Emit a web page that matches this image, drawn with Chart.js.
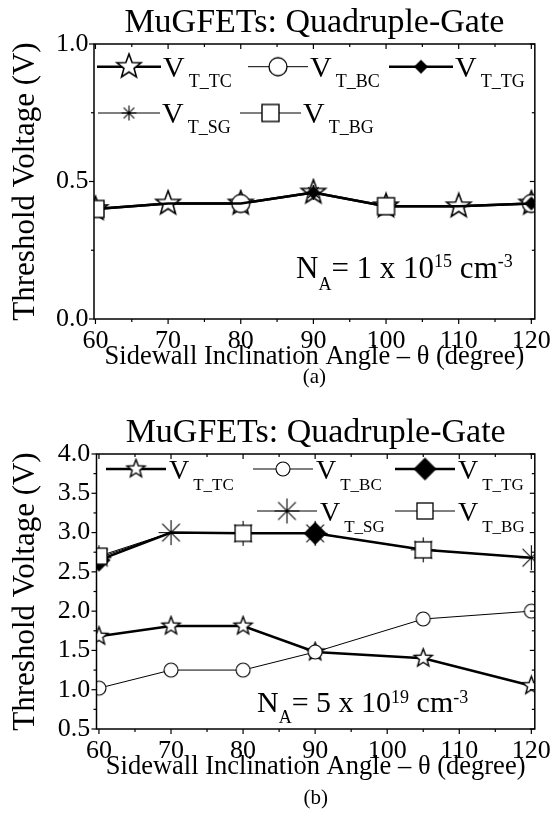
<!DOCTYPE html>
<html>
<head>
<meta charset="utf-8">
<script src="https://cdn.jsdelivr.net/npm/chart.js@4.4.1/dist/chart.umd.min.js"></script>
<style>
  html, body { margin: 0; padding: 0; background: #fff; }
  #wrap { position: relative; width: 555px; height: 821px; overflow: hidden; background: #fff; }
  #wrap canvas { position: absolute; left: 0; }
</style>
</head>
<body>
<div id="wrap">
  <canvas id="panelA" width="555" height="410" style="top:0px"></canvas>
  <canvas id="panelB" width="555" height="411" style="top:410px"></canvas>
</div>
<script>
// ---- Data -------------------------------------------------------------
// Panel (a): NA = 1 x 10^15 cm^-3
const anglesA = [60, 70, 80, 90, 100, 110, 120];
const vtTC_A = [0.40, 0.42, 0.42, 0.46, 0.41, 0.41, 0.42];
const vtBC_A = [0.40, 0.42, 0.42, 0.46, 0.41, 0.41, 0.42];
const vtTG_A = [0.40, 0.42, 0.42, 0.46, 0.41, 0.41, 0.42];
const vtSG_A = [0.40, 0.42, 0.42, 0.46, 0.41, 0.41, 0.42];
const vtBG_A = [0.40, 0.42, 0.42, 0.46, 0.41, 0.41, 0.42];
// angles at which each curve carries a symbol
const markTC_A = [60, 70, 80, 90, 100, 110, 120];
const markBC_A = [80, 120];
const markTG_A = [60, 90, 120];
const markSG_A = [90];
const markBG_A = [60, 100];
const xTicksA = [60, 70, 80, 90, 100, 110, 120];
const yTicksA = [0.0, 0.5, 1.0];

// Panel (b): NA = 5 x 10^19 cm^-3
const anglesB = [60, 70, 80, 90, 105, 120];
const vtTC_B = [1.68, 1.81, 1.81, 1.48, 1.40, 1.05];
const vtBC_B = [1.02, 1.25, 1.25, 1.48, 1.90, 2.00];
const vtTG_B = [2.65, 3.00, 2.99, 2.99, 2.78, 2.68];
const vtSG_B = [2.68, 3.00, 2.99, 2.99, 2.78, 2.68];
const vtBG_B = [2.70, 3.00, 2.99, 2.99, 2.78, 2.68];
const markTC_B = [60, 70, 80, 90, 105, 120];
const markBC_B = [60, 70, 80, 90, 105, 120];
const markTG_B = [60, 90];
const markSG_B = [60, 70, 80, 90, 105, 120];
const markBG_B = [60, 80, 105];
const xTicksB = [60, 70, 80, 90, 100, 110, 120];
const yTicksB = [0.5, 1.0, 1.5, 2.0, 2.5, 3.0, 3.5, 4.0];

const seriesNames = ['T_TC', 'T_BC', 'T_TG', 'T_SG', 'T_BG'];
const chartTitle = 'MuGFETs: Quadruple-Gate';
const yTitle = 'Threshold Voltage (V)';
const xTitle = 'Sidewall Inclination Angle \u2013 \u03b8 (degree)';
const dopingA = ['1 x 10', '15'];
const dopingB = ['5 x 10', '19'];

// ---- Symbols ----------------------------------------------------------
const FONT = "'Liberation Serif', 'Times New Roman', serif";

function makeCanvas(half) {
  const c = document.createElement('canvas');
  const s = Math.ceil(half * 2 + 4);
  c.width = c.height = s;
  return c;
}
function starSymbol(R, lw) {
  const c = makeCanvas(R), g = c.getContext('2d');
  const cx = c.width / 2, cy = c.height / 2;
  g.beginPath();
  for (let i = 0; i < 10; i++) {
    const r = i % 2 ? R * 0.42 : R;
    const a = -Math.PI / 2 + i * Math.PI / 5;
    g.lineTo(cx + r * Math.cos(a), cy + r * Math.sin(a));
  }
  g.closePath();
  g.fillStyle = '#fff'; g.fill();
  g.lineWidth = lw; g.strokeStyle = '#000'; g.lineJoin = 'miter'; g.stroke();
  return c;
}
function circleSymbol(r, lw) {
  const c = makeCanvas(r), g = c.getContext('2d');
  g.beginPath(); g.arc(c.width / 2, c.height / 2, r, 0, Math.PI * 2);
  g.fillStyle = '#fff'; g.fill();
  g.lineWidth = lw; g.strokeStyle = '#000'; g.stroke();
  return c;
}
function diamondSymbol(r) {
  const c = makeCanvas(r), g = c.getContext('2d');
  const cx = c.width / 2, cy = c.height / 2;
  g.beginPath(); g.moveTo(cx, cy - r); g.lineTo(cx + r, cy); g.lineTo(cx, cy + r); g.lineTo(cx - r, cy); g.closePath();
  g.fillStyle = '#000'; g.fill();
  return c;
}
function squareSymbol(h, lw) {
  const c = makeCanvas(h), g = c.getContext('2d');
  const cx = c.width / 2, cy = c.height / 2;
  g.fillStyle = '#fff'; g.fillRect(cx - h, cy - h, 2 * h, 2 * h);
  g.lineWidth = lw; g.strokeStyle = '#000'; g.strokeRect(cx - h, cy - h, 2 * h, 2 * h);
  return c;
}
function asteriskSymbol(r, lw) {
  const c = makeCanvas(r), g = c.getContext('2d');
  const cx = c.width / 2, cy = c.height / 2;
  g.lineWidth = lw; g.strokeStyle = '#000';
  g.beginPath();
  for (let i = 0; i < 4; i++) {
    const a = i * Math.PI / 4;
    g.moveTo(cx - r * Math.cos(a), cy - r * Math.sin(a));
    g.lineTo(cx + r * Math.cos(a), cy + r * Math.sin(a));
  }
  g.stroke();
  return c;
}

// ---- Plugins ----------------------------------------------------------
function strokeLine(ctx, x1, y1, x2, y2) {
  ctx.beginPath(); ctx.moveTo(x1, y1); ctx.lineTo(x2, y2); ctx.stroke();
}
function midpoints(vals) {
  const out = [];
  for (let i = 0; i < vals.length - 1; i++) out.push((vals[i] + vals[i + 1]) / 2);
  return out;
}

// Box frame with outward ticks on left/bottom and inward ticks on top/right.
const framePlugin = {
  id: 'frame',
  afterDraw(chart) {
    const { ctx, chartArea: a, scales: { x, y } } = chart;
    const major = 5, minor = 3;
    ctx.save();
    ctx.strokeStyle = '#000';
    ctx.lineWidth = 1.2;
    const xm = x.ticks.map(t => t.value), ym = y.ticks.map(t => t.value);
    xm.forEach(v => {
      const p = x.getPixelForValue(v);
      strokeLine(ctx, p, a.bottom, p, a.bottom + major);
      strokeLine(ctx, p, a.top, p, a.top + major);
    });
    midpoints(xm).forEach(v => {
      const p = x.getPixelForValue(v);
      strokeLine(ctx, p, a.bottom, p, a.bottom + minor);
      strokeLine(ctx, p, a.top, p, a.top + minor);
    });
    ym.forEach(v => {
      const p = y.getPixelForValue(v);
      strokeLine(ctx, a.left - major, p, a.left, p);
      strokeLine(ctx, a.right - major, p, a.right, p);
    });
    midpoints(ym).forEach(v => {
      const p = y.getPixelForValue(v);
      strokeLine(ctx, a.left - minor, p, a.left, p);
      strokeLine(ctx, a.right - minor, p, a.right, p);
    });
    ctx.lineWidth = 1.5;
    ctx.strokeRect(a.left, a.top, a.right - a.left, a.bottom - a.top);
    ctx.restore();
  }
};

// Legend with subscripted labels and the doping annotation.
const notesPlugin = {
  id: 'notes',
  afterDatasetsDraw(chart, args, o) {
    const { ctx, chartArea: a } = chart;
    ctx.save();
    ctx.fillStyle = '#000';
    ctx.strokeStyle = '#000';
    ctx.textBaseline = 'alphabetic';
    ctx.textAlign = 'left';
    o.items.forEach((it, i) => {
      const ds = chart.data.datasets[i];
      const y = a.top + it.dy;
      const x0 = a.left + it.dx0, x1 = a.left + it.dx1;
      ctx.lineWidth = ds.borderWidth;
      strokeLine(ctx, x0, y, x1, y);
      const img = ds.pointStyle;
      ctx.drawImage(img, (x0 + x1) / 2 - img.width / 2, y - img.height / 2);
      let tx = x1 + o.gap;
      ctx.font = o.mainSize + 'px ' + FONT;
      ctx.fillText('V', tx, y + o.mainDrop);
      tx += ctx.measureText('V').width + o.subGap;
      ctx.font = o.subSize + 'px ' + FONT;
      ctx.fillText(seriesNames[i], tx, y + o.subDrop);
    });
    // N_A = ... annotation
    const n = o.note;
    let tx = a.left + n.dx;
    const base = a.top + n.dy;
    const parts = [
      { t: 'N', s: n.big, d: 0 },
      { t: 'A', s: n.small, d: n.subDrop },
      { t: '= ' + n.text[0], s: n.big, d: 0 },
      { t: n.text[1], s: n.small, d: -n.supRise },
      { t: ' cm', s: n.big, d: 0 },
      { t: '-3', s: n.small, d: -n.supRise }
    ];
    parts.forEach(p => {
      ctx.font = p.s + 'px ' + FONT;
      ctx.fillText(p.t, tx, base + p.d);
      tx += ctx.measureText(p.t).width;
    });
    ctx.restore();
  }
};

// ---- Chart builder ----------------------------------------------------
function dataset(angles, values, marked, symbol, width, order) {
  return {
    data: angles.map((a, i) => ({ x: a, y: values[i] })),
    borderColor: '#000',
    backgroundColor: '#000',
    borderWidth: width,
    tension: 0,
    fill: false,
    order: order,
    pointStyle: symbol,
    pointRadius: c => (c.raw && marked.includes(c.raw.x)) ? 5 : 0,
    pointHoverRadius: 0,
    pointBorderWidth: 0
  };
}

function build(canvasId, p) {
  return new Chart(document.getElementById(canvasId), {
    type: 'line',
    data: { datasets: p.datasets },
    options: {
      responsive: false,
      animation: false,
      devicePixelRatio: 1,
      events: [],
      layout: { padding: { left: 0, top: 0, right: p.padRight, bottom: p.padBottom } },
      scales: {
        x: {
          type: 'linear',
          min: p.xMin, max: p.xMax,
          afterBuildTicks: s => { s.ticks = p.xTicks.map(v => ({ value: v })); },
          afterFit: s => { s.height = p.xAxisHeight; },
          ticks: {
            color: '#000', font: { family: FONT, size: p.tickSize, lineHeight: 1 },
            padding: p.xTickPad, maxRotation: 0, autoSkip: false,
            callback: v => String(v)
          },
          grid: { drawOnChartArea: false, drawTicks: true, tickLength: 5, tickColor: 'rgba(0,0,0,0)' },
          border: { display: false },
          title: {
            display: true, text: xTitle, color: '#000',
            font: { family: FONT, size: 26.5, lineHeight: 1 },
            padding: { top: 0, bottom: 0 }
          }
        },
        y: {
          type: 'linear',
          min: p.yMin, max: p.yMax,
          afterBuildTicks: s => { s.ticks = p.yTicks.map(v => ({ value: v })); },
          afterFit: s => { s.width = p.yAxisWidth; },
          ticks: {
            color: '#000', font: { family: FONT, size: p.tickSize, lineHeight: 1 },
            padding: p.yTickPad, autoSkip: false,
            callback: v => Number(v).toFixed(1)
          },
          grid: { drawOnChartArea: false, drawTicks: true, tickLength: 5, tickColor: 'rgba(0,0,0,0)' },
          border: { display: false },
          title: {
            display: true, text: yTitle, color: '#000',
            font: { family: FONT, size: 31, lineHeight: 1 },
            padding: { top: 10.5, bottom: 0 }
          }
        }
      },
      plugins: {
        legend: { display: false },
        tooltip: { enabled: false },
        title: {
          display: true, text: chartTitle, color: '#000', fullSize: false,
          font: { family: FONT, size: 34, weight: 'normal', lineHeight: 1 },
          padding: { top: 6.5, bottom: 3.5 }
        },
        subtitle: {
          display: true, text: p.tag, position: 'bottom', color: '#000', fullSize: false,
          font: { family: FONT, size: 21, weight: 'normal', lineHeight: p.tagLine },
          padding: { top: p.tagPad, bottom: 0 }
        },
        notes: p.notes
      }
    },
    plugins: [framePlugin, notesPlugin]
  });
}

// Panel (a)
build('panelA', {
  datasets: [
    dataset(anglesA, vtTC_A, markTC_A, starSymbol(12.7, 1.6), 2.5, 5),
    dataset(anglesA, vtBC_A, markBC_A, circleSymbol(9, 1.3), 1, 4),
    dataset(anglesA, vtTG_A, markTG_A, diamondSymbol(7), 2.5, 3),
    dataset(anglesA, vtSG_A, markSG_A, asteriskSymbol(7.5, 1.1), 1, 2),
    dataset(anglesA, vtBG_A, markBG_A, squareSymbol(8.5, 1.4), 1, 1)
  ],
  xMin: 59.8, xMax: 120.48, yMin: 0, yMax: 1.0,
  xTicks: xTicksA, yTicks: yTicksA,
  padRight: 18, padBottom: 25.3,
  xAxisHeight: 51, yAxisWidth: 94,
  tickSize: 26, xTickPad: 4, yTickPad: 0.5,
  tag: '(a)', tagPad: 0, tagLine: 0.7,
  notes: {
    gap: 2, subGap: 4, mainSize: 30, subSize: 18, mainDrop: 10.3, subDrop: 20,
    items: [
      { dx0: 3, dx1: 67, dy: 22.7 },
      { dx0: 154, dx1: 214, dy: 22.7 },
      { dx0: 295, dx1: 359, dy: 22.7 },
      { dx0: 4, dx1: 66, dy: 69 },
      { dx0: 146, dx1: 207, dy: 69 }
    ],
    note: { dx: 202, dy: 234, big: 31, small: 18, subDrop: 12, supRise: 11, text: dopingA }
  }
});

// Panel (b)
build('panelB', {
  datasets: [
    dataset(anglesB, vtTC_B, markTC_B, starSymbol(9.5, 1.4), 2.5, 5),
    dataset(anglesB, vtBC_B, markBC_B, circleSymbol(7, 1.1), 1, 4),
    dataset(anglesB, vtTG_B, markTG_B, diamondSymbol(11.5), 2.5, 3),
    dataset(anglesB, vtSG_B, markSG_B, asteriskSymbol(12.5, 1.1), 1, 2),
    dataset(anglesB, vtBG_B, markBG_B, squareSymbol(8, 1.3), 1, 1)
  ],
  xMin: 59.66, xMax: 120.48, yMin: 0.5, yMax: 4.0,
  xTicks: xTicksB, yTicks: yTicksB,
  padRight: 13.5, padBottom: 12.6,
  xAxisHeight: 51, yAxisWidth: 96.5,
  tickSize: 26, xTickPad: 4, yTickPad: 1.2,
  tag: '(b)', tagPad: 9.5, tagLine: 0.9,
  notes: {
    gap: 3, subGap: 4, mainSize: 28, subSize: 17, mainDrop: 10, subDrop: 21,
    items: [
      { dx0: 9.5, dx1: 69.5, dy: 15 },
      { dx0: 156.5, dx1: 216.5, dy: 15 },
      { dx0: 298.5, dx1: 358.5, dy: 15 },
      { dx0: 160.5, dx1: 220.5, dy: 57 },
      { dx0: 298.5, dx1: 358.5, dy: 57 }
    ],
    note: { dx: 160.5, dy: 258, big: 30, small: 18, subDrop: 11, supRise: 9, text: dopingB }
  }
});
</script>
</body>
</html>
